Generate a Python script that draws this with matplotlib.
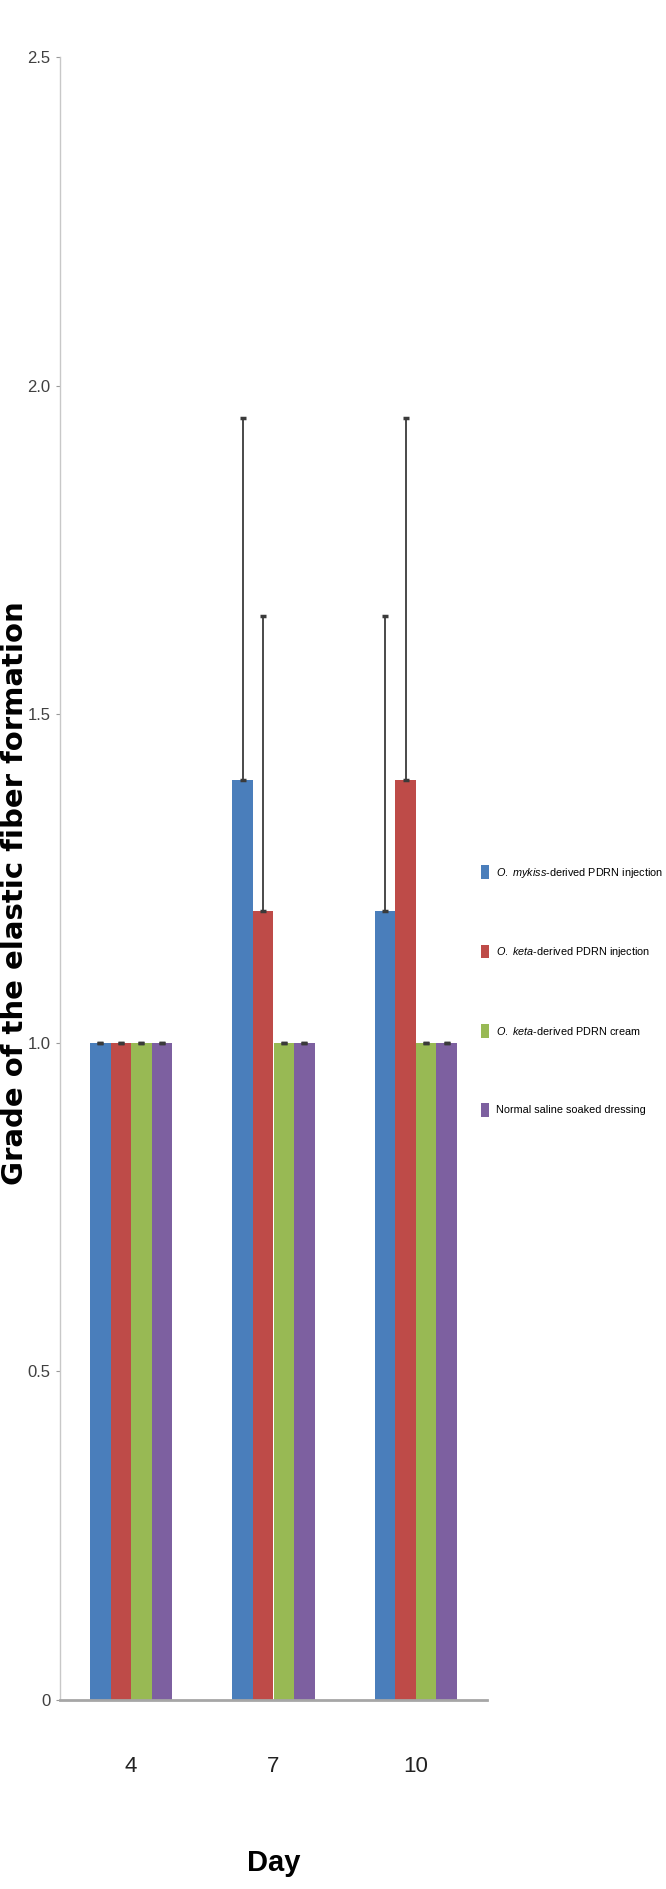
import matplotlib
matplotlib.use("Agg")
import matplotlib.pyplot as plt
import numpy as np

days = ["4", "7", "10"]
series_names = [
    r"$\it{O.\ mykiss}$-derived PDRN injection",
    r"$\it{O.\ keta}$-derived PDRN injection",
    r"$\it{O.\ keta}$-derived PDRN cream",
    "Normal saline soaked dressing",
]
mykiss_inj = [1.0, 1.4, 1.2]
mykiss_inj_err = [0.0, 0.55, 0.45]
keta_inj = [1.0, 1.2, 1.4]
keta_inj_err = [0.0, 0.45, 0.55]
keta_cream = [1.0, 1.0, 1.0]
keta_cream_err = [0.0, 0.0, 0.0]
saline = [1.0, 1.0, 1.0]
saline_err = [0.0, 0.0, 0.0]
yticks = [0, 0.5, 1.0, 1.5, 2.0, 2.5]
ytick_labels = ["0", "0.5", "1.0", "1.5", "2.0", "2.5"]

colors = ["#4A7EBB", "#BE4B48", "#98B954", "#7D60A0"]
fam = ["Liberation Sans", "DejaVu Sans"]
plt.rcParams["mathtext.fontset"] = "custom"
plt.rcParams["mathtext.it"] = "Liberation Sans:italic"
plt.rcParams["mathtext.rm"] = "Liberation Sans"
plt.rcParams["mathtext.bf"] = "Liberation Sans:bold"

W, H = 666, 1889
fig = plt.figure(figsize=(W / 100, H / 100), dpi=100)
renderer = fig.canvas.get_renderer()
ax_l, ax_r, ax_b, ax_t = 60, 487, 1700, 57
ax = fig.add_axes([ax_l / W, 1 - ax_b / H, (ax_r - ax_l) / W, (ax_b - ax_t) / H])

x = np.arange(len(days))
bw = 0.145
all_vals = [mykiss_inj, keta_inj, keta_cream, saline]
all_errs = [mykiss_inj_err, keta_inj_err, keta_cream_err, saline_err]
for i, (vals, errs) in enumerate(zip(all_vals, all_errs)):
    pos = x + (i - 1.5) * bw
    ax.bar(pos, vals, width=bw, color=colors[i], label=series_names[i], zorder=2)
    ax.errorbar(pos, vals, yerr=[np.zeros(len(errs)), errs], fmt="none",
                ecolor="#3a3a3a", elinewidth=1.3, capsize=2.5, capthick=2.5, zorder=3)

ax.set_xlim(-0.5, 2.5)
ax.set_ylim(0, 2.5)
ax.set_xticks(x)
ax.set_xticklabels(days, fontsize=16, family=fam, color="#222222")
ax.set_yticks(yticks)
ax.set_yticklabels(ytick_labels, fontsize=12, family=fam, color="#404040")
ax.tick_params(axis="x", length=0, pad=40)
ax.tick_params(axis="y", length=3, width=0.8, color="#999999", pad=4)
for s in ["top", "right"]:
    ax.spines[s].set_visible(False)
ax.spines["left"].set_color("#C8C8C8")
ax.spines["left"].set_linewidth(1.0)
ax.spines["bottom"].set_color("#A6A6A6")
ax.spines["bottom"].set_linewidth(2.0)

fig.text(23 / W, 1 - 893 / H, "Grade of the elastic fiber formation", rotation=90,
         rotation_mode="anchor", ha="center", va="baseline",
         fontsize=21, fontweight="bold", family="DejaVu Sans")
fig.text(274 / W, 1 - 1863 / H, "Day", ha="center", va="center",
         fontsize=21, fontweight="bold", family=fam)

# fit legend font size so the longest label is ~166 px wide
probe = fig.text(0, 0, series_names[0], fontsize=10, family=fam)
w10 = probe.get_window_extent(renderer).width
probe.remove()
lsize = 10 * 166 / w10
fpx = lsize * 100 / 72
fig.legend(loc="center left", bbox_to_anchor=(481 / W, 1 - 991 / H), frameon=False,
           prop={"family": fam, "size": lsize}, handlelength=8 / fpx,
           handleheight=17 / fpx, handletextpad=7 / fpx,
           labelspacing=(82 - 17) / fpx, borderpad=0, borderaxespad=0)

fig.savefig("out.png", dpi=100)
